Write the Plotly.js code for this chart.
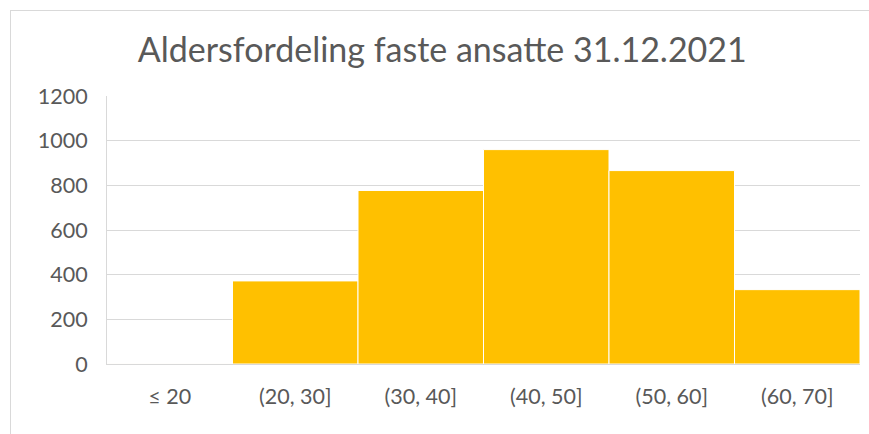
<!DOCTYPE html>
<html>
<head>
<meta charset="utf-8">
<script src="https://cdn.plot.ly/plotly-3.0.1.min.js"></script>
<style>
  html, body { margin: 0; padding: 0; background: #fff; }
  #wrap { position: relative; width: 869px; height: 434px; overflow: hidden; }
  #frame { position: absolute; left: 10px; top: 10px; width: 900px; height: 500px;
           border-top: 1px solid #D9D9D9; border-left: 1px solid #D9D9D9; pointer-events: none; }
  #chart { position: absolute; left: 0; top: 0; width: 869px; height: 434px; }
</style>
</head>
<body>
<div id="wrap">
  <div id="chart"></div>
  <div id="frame"></div>
</div>
<script>
const categories = ["≤ 20", "(20, 30]", "(30, 40]", "(40, 50]", "(50, 60]", "(60, 70]"];
const counts = [2, 372, 777, 960, 866, 333];
const yTicks = [0, 200, 400, 600, 800, 1000, 1200];
const titleText = "Aldersfordeling faste ansatte 31.12.2021";

const font = "Lato, 'Open Sans', sans-serif";
const textColor = "#595959";

Plotly.newPlot("chart", [{
  type: "bar",
  x: categories,
  y: counts,
  marker: { color: "#FFC000", line: { color: "#FFFFFF", width: 1 } },
  hoverinfo: "skip"
}], {
  width: 869,
  height: 434,
  margin: { l: 107, r: 9, t: 96, b: 70 },
  paper_bgcolor: "#FFFFFF",
  plot_bgcolor: "#FFFFFF",
  bargap: 0,
  showlegend: false,
  title: {
    text: titleText,
    font: { family: font, size: 34, color: textColor },
    x: 0.509, xanchor: "center", xref: "container",
    y: 0.885, yanchor: "middle", yref: "container"
  },
  xaxis: {
    type: "category",
    tickfont: { family: font, size: 21.5, color: textColor },
    showgrid: false,
    showline: true, linecolor: "#D9D9D9", linewidth: 1,
    ticks: "outside", ticklen: 13, tickcolor: "rgba(0,0,0,0)",
    fixedrange: true
  },
  yaxis: {
    range: [0, 1200],
    tickvals: yTicks,
    ticktext: yTicks.map(String),
    tickfont: { family: font, size: 21.5, color: textColor },
    showgrid: true, gridcolor: "#D9D9D9", gridwidth: 1,
    showline: true, linecolor: "#D9D9D9", linewidth: 1,
    zeroline: false,
    ticks: "outside", ticklen: 14, tickcolor: "rgba(0,0,0,0)",
    fixedrange: true
  }
}, { displayModeBar: false, staticPlot: true });
</script>
</body>
</html>
